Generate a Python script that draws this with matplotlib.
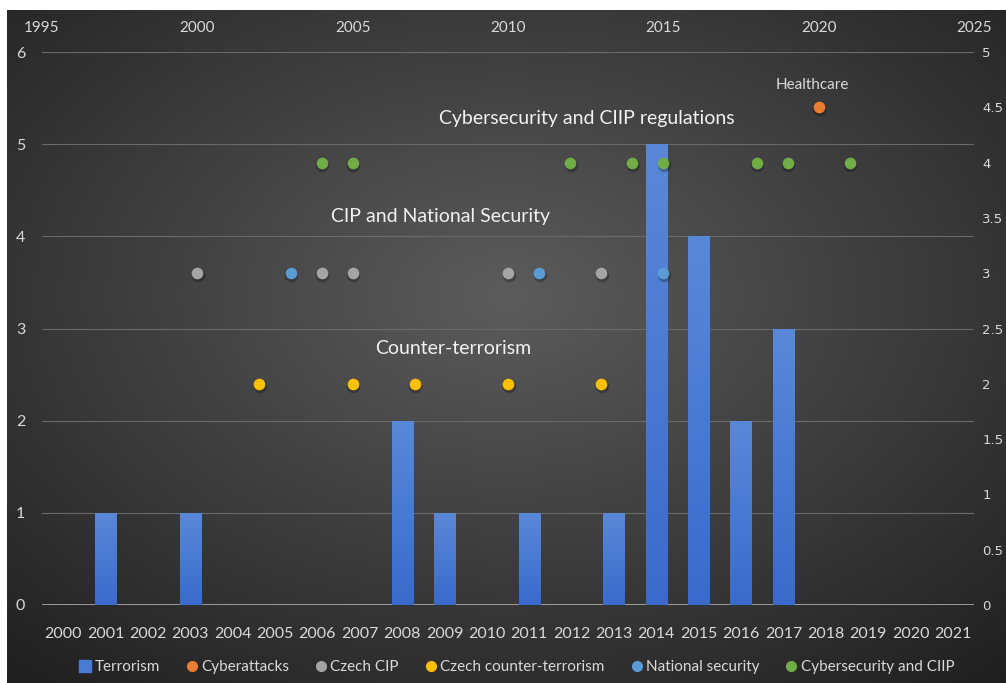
import numpy as np
import matplotlib
matplotlib.use("Agg")
import matplotlib.pyplot as plt
from matplotlib.lines import Line2D

# Terrorism counts per year (bars, left axis)
years = list(range(2000, 2022))
terrorism = [0, 1, 0, 1, 0, 0, 0, 0, 2, 1, 0, 1, 0, 1, 5, 4, 2, 3, 0, 0, 0, 0]

# regulation timeline (points, top/right axes)
cyberattacks_x = [2020]
cyberattacks_y = [4.5]
czech_cip_x = [2000, 2004, 2005, 2010, 2013]
czech_cip_y = [3, 3, 3, 3, 3]
czech_ct_x = [2002, 2005, 2007, 2010, 2013]
czech_ct_y = [2, 2, 2, 2, 2]
natsec_x = [2003, 2011, 2015]
natsec_y = [3, 3, 3]
cyber_ciip_x = [2004, 2005, 2012, 2014, 2015, 2018, 2019, 2021]
cyber_ciip_y = [4, 4, 4, 4, 4, 4, 4, 4]

BAR = "#4a7bd3"
C_ORANGE = "#ed7d31"
C_GRAY = "#a5a5a5"
C_YELLOW = "#ffc000"
C_BLUE = "#5b9bd5"
C_GREEN = "#70ad47"
TXT = "#d9d9d9"

plt.rcParams["font.family"] = ["Lato", "DejaVu Sans"]

W, H = 1006, 683
fig = plt.figure(figsize=(W / 100, H / 100), dpi=100, facecolor="white")

# dark radial background of the chart area
bg = fig.add_axes([7 / W, 0, 1 - 7 / W, 1 - 10 / H])
bg.set_axis_off()
yy, xx = np.mgrid[-1:1:300j, -1:1:400j]
r = np.sqrt(xx ** 2 + (yy + 0.15) ** 2) / np.sqrt(2)
shade = 0.36 - 0.22 * r
bg.imshow(np.dstack([shade] * 3), aspect="auto", extent=(0, 1, 0, 1))

left, right = 42 / W, 974 / W
bottom, top = 1 - 605 / H, 1 - 52 / H
pos = [left, bottom, right - left, top - bottom]

# bars
ax = fig.add_axes(pos)
ax.patch.set_visible(False)
xs = np.arange(len(years))
bars = ax.bar(xs, terrorism, width=0.5, color=BAR, zorder=2)
grad = np.linspace(0, 1, 100).reshape(-1, 1)
cmap = matplotlib.colors.LinearSegmentedColormap.from_list("b", ["#3a6bcc", "#5a88d8"])
for b in bars:
    if b.get_height() == 0:
        continue
    x0, w, h = b.get_x(), b.get_width(), b.get_height()
    im = ax.imshow(grad, extent=(x0, x0 + w, 0, h), origin="lower", cmap=cmap,
                   aspect="auto", zorder=2.1)
    im.set_clip_path(b)
ax.set_xlim(-0.5, len(years) - 0.5)
ax.set_ylim(0, 6)
ax.set_xticks(xs)
ax.set_xticklabels([str(y) for y in years])
ax.set_yticks(range(7))
ax.yaxis.grid(True, color="#6a6a6a", lw=0.8, zorder=0)
ax.set_axisbelow(True)
for s in ax.spines.values():
    s.set_visible(False)
ax.axhline(0, color="#a6a6a6", lw=2, zorder=1)
ax.tick_params(axis="both", length=0, colors=TXT, labelsize=11.5)
ax.tick_params(axis="x", pad=16)
ax.tick_params(axis="y", pad=12)

# points on secondary axes (top x: years, right y: 0-5)
ax2 = fig.add_axes(pos)
ax2.patch.set_visible(False)
for s in ax2.spines.values():
    s.set_visible(False)
ax2.set_xlim(1995, 2025)
ax2.set_ylim(0, 5)
ax2.set_xticks(range(1995, 2026, 5))
ax2.set_yticks(np.arange(0, 5.01, 0.5))
ax2.set_yticklabels(["0", "0.5", "1", "1.5", "2", "2.5", "3", "3.5", "4", "4.5", "5"])
ax2.xaxis.tick_top()
ax2.yaxis.tick_right()
ax2.tick_params(axis="both", length=0, colors=TXT, labelsize=11)
ax2.tick_params(axis="x", pad=12)
ax2.tick_params(axis="y", pad=6)
for lab in ax2.get_yticklabels():
    lab.set_fontfamily("DejaVu Sans")
    lab.set_fontsize(9.5)

series = [
    (cyberattacks_x, cyberattacks_y, C_ORANGE),
    (czech_cip_x, czech_cip_y, C_GRAY),
    (czech_ct_x, czech_ct_y, C_YELLOW),
    (natsec_x, natsec_y, C_BLUE),
    (cyber_ciip_x, cyber_ciip_y, C_GREEN),
]
shadow = ax2.transData + matplotlib.transforms.ScaledTranslation(0.5 / 72, -1.5 / 72, fig.dpi_scale_trans)
for sx, sy, c in series:
    ax2.scatter(sx, sy, s=95, color="black", alpha=0.25, lw=0, zorder=3, transform=shadow)
    ax2.scatter(sx, sy, s=70, color=c, lw=0, zorder=4)

# group captions
cap = dict(color="#f2f2f2", ha="center", va="center", fontsize=14)
ax2.text(0.441, 0.463, "Counter-terrorism", transform=ax2.transAxes, **cap)
ax2.text(0.428, 0.702, "CIP and National Security", transform=ax2.transAxes, **cap)
ax2.text(0.585, 0.880, "Cybersecurity and CIIP regulations", transform=ax2.transAxes, **cap)
ax2.text(0.826, 0.940, "Healthcare", transform=ax2.transAxes, color=TXT,
         ha="center", va="center", fontsize=11)

handles = [Line2D([], [], ls="none", marker="s", ms=8, color=BAR, label="Terrorism")]
names = ["Cyberattacks", "Czech CIP", "Czech counter-terrorism",
         "National security", "Cybersecurity and CIIP"]
for (sx, sy, c), n in zip(series, names):
    handles.append(Line2D([], [], ls="none", marker="o", ms=7, color=c, label=n))
fig.legend(handles=handles, loc="center", bbox_to_anchor=(516 / W, 1 - 667 / H),
           ncol=6, frameon=False, fontsize=11, labelcolor=TXT,
           handletextpad=0.1, columnspacing=1.6, handlelength=1.0)

fig.savefig("out.png", dpi=100, facecolor="white")
